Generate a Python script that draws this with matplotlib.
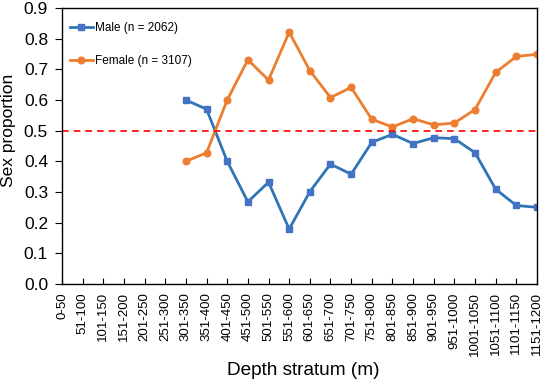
import matplotlib
matplotlib.use("Agg")
import matplotlib.pyplot as plt
import numpy as np

plt.rcParams['font.family'] = ['Liberation Sans', 'DejaVu Sans']

categories = ["0-50", "51-100", "101-150", "151-200", "201-250", "251-300", "301-350",
              "351-400", "401-450", "451-500", "501-550", "551-600", "601-650", "651-700",
              "701-750", "751-800", "801-850", "851-900", "901-950", "951-1000",
              "1001-1050", "1051-1100", "1101-1150", "1151-1200"]
male = [None]*6 + [0.60, 0.57, 0.40, 0.268, 0.332, 0.179, 0.301, 0.391, 0.358, 0.462,
                   0.488, 0.458, 0.477, 0.474, 0.428, 0.309, 0.256, 0.250]
female = [None]*6 + [0.40, 0.428, 0.600, 0.731, 0.665, 0.821, 0.696, 0.608, 0.641, 0.537,
                     0.512, 0.539, 0.519, 0.525, 0.569, 0.690, 0.742, 0.749]
male_label = "Male (n = 2062)"
female_label = "Female (n = 3107)"

x = np.arange(len(categories))
m = np.array([np.nan if v is None else v for v in male])
f = np.array([np.nan if v is None else v for v in female])

fig = plt.figure(figsize=(5.5, 3.84), dpi=100)
ax = fig.add_axes([62/550, 1-284/384, 475/550, 276/384])

ax.plot(x, m, color='#2E75B6', lw=2.0, marker='s', ms=4.8, mfc='#4472C4', mec='#4472C4',
        label=male_label)
ax.plot(x, f, color='#ED7D31', lw=2.0, marker='o', ms=4.8, mfc='#ED7D31', mec='#ED7D31',
        label=female_label)
ax.axhline(0.5, color='#FF0000', ls=(0, (4, 3)), lw=1.2)

ax.set_xlim(0, len(categories)-1)
ax.set_ylim(0, 0.9)
ax.set_yticks(np.arange(0, 0.91, 0.1))
ax.set_yticklabels([f"{v:.1f}" for v in np.arange(0, 0.91, 0.1)], fontsize=12.5)
ax.set_xticks(x)
ax.set_xticklabels(categories, rotation=90, fontsize=9.5)
ax.tick_params(axis='x', direction='in', length=4, pad=6)
ax.tick_params(axis='y', direction='out', length=5, pad=5)
for s in ax.spines.values():
    s.set_linewidth(1.0)

ax.set_ylabel("Sex proportion", fontsize=12.5)
ax.yaxis.set_label_coords(-45.5/475, (284-130)/276)
ax.set_xlabel("Depth stratum (m)", fontsize=13.7)
ax.xaxis.set_label_coords((303-62)/475, -(362-284)/276)

ax.legend(loc='upper left', frameon=False, fontsize=8.5, handlelength=1.95,
          handletextpad=0.15, labelspacing=1.75, borderaxespad=0,
          bbox_to_anchor=(65/550, 1-17.5/384), bbox_transform=fig.transFigure)

fig.savefig("out.png", dpi=100)
